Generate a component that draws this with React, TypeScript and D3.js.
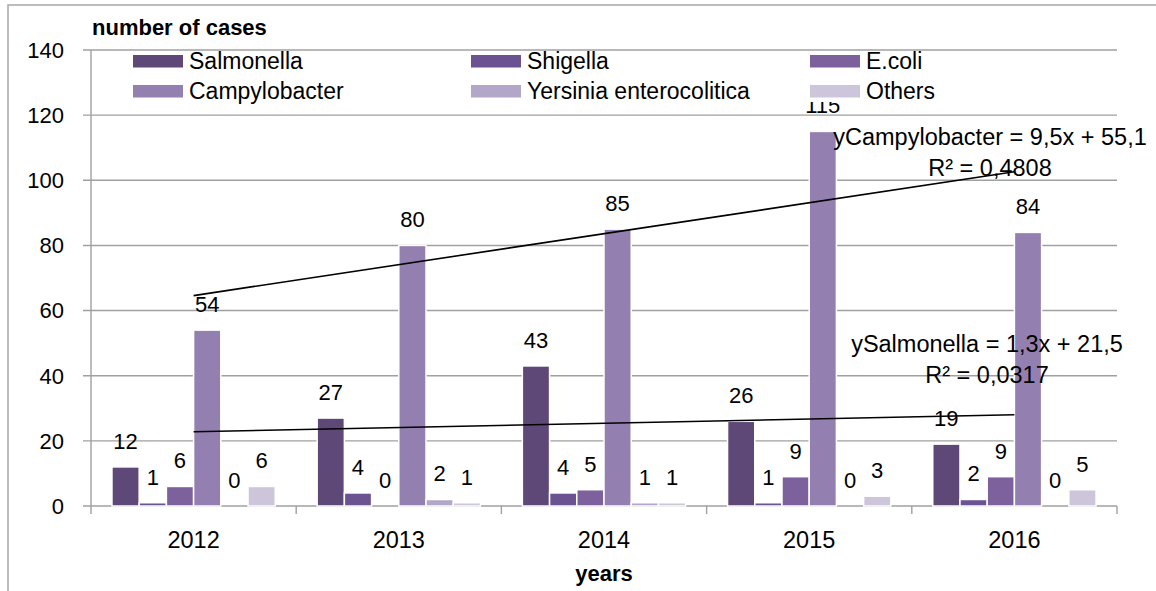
import React, { useEffect, useRef } from 'react';
import * as d3 from 'd3';

const years = ['2012', '2013', '2014', '2015', '2016'];
const seriesNames = ['Salmonella', 'Shigella', 'E.coli', 'Campylobacter', 'Yersinia enterocolitica', 'Others'];
const salmonella = [12, 27, 43, 26, 19];
const shigella = [1, 4, 4, 1, 2];
const ecoli = [6, 0, 5, 9, 9];
const campylobacter = [54, 80, 85, 115, 84];
const yersinia = [0, 2, 1, 0, 0];
const others = [6, 1, 1, 3, 5];
const yTicks = [0, 20, 40, 60, 80, 100, 120, 140];
const colors = ['#5e4878', '#6b5290', '#7d619c', '#9480b0', '#b3a7c9', '#cdc6db'];

const fontFamily = '"Liberation Sans", Arial, sans-serif';

// least squares on x = 1..n, like Excel's linear trendline
const linearFit = (values: number[]) => {
  const xs = values.map((_, i) => i + 1);
  const mx = d3.mean(xs) as number;
  const my = d3.mean(values) as number;
  const sxy = d3.sum(xs, (x, i) => (x - mx) * (values[i] - my));
  const sxx = d3.sum(xs, (x) => (x - mx) ** 2);
  const slope = sxy / sxx;
  const intercept = my - slope * mx;
  const ssTot = d3.sum(values, (v) => (v - my) ** 2);
  const ssRes = d3.sum(values, (v, i) => (v - (slope * xs[i] + intercept)) ** 2);
  return { slope, intercept, r2: 1 - ssRes / ssTot };
};

const comma = (v: number, digits: number) => v.toFixed(digits).replace('.', ',');

const App = () => {
  const ref = useRef<SVGSVGElement>(null);

  useEffect(() => {
    const data = [salmonella, shigella, ecoli, campylobacter, yersinia, others];
    const width = 1156;
    const height = 591;
    const left = 91;
    const right = 1117;
    const top = 50;
    const bottom = 506;

    const svg = d3.select(ref.current);
    svg.selectAll('*').remove();
    svg.attr('width', width).attr('height', height).style('font-family', fontFamily);

    // outer chart border
    svg
      .append('rect')
      .attr('x', 8)
      .attr('y', 5)
      .attr('width', width + 10)
      .attr('height', height + 10)
      .attr('fill', 'white')
      .attr('stroke', '#a6a6a6')
      .attr('stroke-width', 1.5);

    const y = d3.scaleLinear().domain([0, 140]).range([bottom, top]);
    const x0 = d3.scaleBand().domain(years).range([left, right]);
    const x1 = d3
      .scaleBand()
      .domain(seriesNames)
      .range([0, x0.bandwidth()])
      .paddingOuter(0.77);

    // gridlines
    svg
      .append('g')
      .selectAll('line')
      .data(yTicks)
      .enter()
      .append('line')
      .attr('x1', left - 8)
      .attr('x2', right)
      .attr('y1', (d) => y(d))
      .attr('y2', (d) => y(d))
      .attr('stroke', '#a0a0a0')
      .attr('stroke-width', 1.4);

    svg
      .append('line')
      .attr('x1', left)
      .attr('x2', left)
      .attr('y1', top)
      .attr('y2', bottom)
      .attr('stroke', '#a0a0a0')
      .attr('stroke-width', 1.4);

    // category tick marks
    const bounds = years.map((yr) => x0(yr) as number).concat([right]);
    svg
      .append('g')
      .selectAll('line')
      .data(bounds)
      .enter()
      .append('line')
      .attr('x1', (d) => d)
      .attr('x2', (d) => d)
      .attr('y1', bottom)
      .attr('y2', bottom + 8)
      .attr('stroke', '#a0a0a0')
      .attr('stroke-width', 1.4);

    svg
      .append('g')
      .attr('font-size', 22)
      .attr('text-anchor', 'end')
      .selectAll('text')
      .data(yTicks)
      .enter()
      .append('text')
      .attr('x', 64)
      .attr('y', (d) => y(d))
      .attr('dy', '0.36em')
      .text((d) => d);

    svg
      .append('g')
      .attr('font-size', 23.5)
      .attr('text-anchor', 'middle')
      .selectAll('text')
      .data(years)
      .enter()
      .append('text')
      .attr('x', (d) => (x0(d) as number) + x0.bandwidth() / 2)
      .attr('y', 548)
      .text((d) => d);

    // bars
    const groups = svg
      .append('g')
      .selectAll('g')
      .data(data)
      .enter()
      .append('g')
      .attr('fill', (_, i) => colors[i]);

    groups
      .selectAll('rect')
      .data((d, i) => d.map((v, j) => ({ v, year: years[j], s: seriesNames[i] })))
      .enter()
      .append('rect')
      .attr('x', (d) => (x0(d.year) as number) + (x1(d.s) as number))
      .attr('y', (d) => y(d.v))
      .attr('width', x1.bandwidth())
      .attr('height', (d) => bottom - y(d.v))
      .attr('stroke', 'white')
      .attr('stroke-width', 1.5);

    // value labels
    groups
      .selectAll('text')
      .data((d, i) => d.map((v, j) => ({ v, year: years[j], s: seriesNames[i] })))
      .enter()
      .append('text')
      .attr('fill', 'black')
      .attr('font-size', 22)
      .attr('text-anchor', 'middle')
      .attr('x', (d) => (x0(d.year) as number) + (x1(d.s) as number) + x1.bandwidth() / 2)
      .attr('y', (d) => y(d.v) - 18)
      .text((d) => d.v);

    // trendlines
    const centre = (i: number) => (x0(years[i]) as number) + x0.bandwidth() / 2;
    const trends = [
      { name: 'Campylobacter', fit: linearFit(campylobacter), lx: 990, ly: 145 },
      { name: 'Salmonella', fit: linearFit(salmonella), lx: 987, ly: 352 },
    ];
    trends.forEach((t) => {
      const last = years.length - 1;
      svg
        .append('line')
        .attr('x1', centre(0))
        .attr('x2', centre(last))
        .attr('y1', y(t.fit.slope * 1 + t.fit.intercept))
        .attr('y2', y(t.fit.slope * (last + 1) + t.fit.intercept))
        .attr('stroke', 'black')
        .attr('stroke-width', 1.6);
      const lbl = svg.append('text').attr('font-size', 23.5).attr('text-anchor', 'middle');
      lbl
        .append('tspan')
        .attr('x', t.lx)
        .attr('y', t.ly)
        .text(`y${t.name} = ${comma(t.fit.slope, 1)}x + ${comma(t.fit.intercept, 1)}`);
      lbl
        .append('tspan')
        .attr('x', t.lx)
        .attr('y', t.ly + 31)
        .text(`R² = ${comma(t.fit.r2, 4)}`);
    });

    // legend
    const legend = svg.append('g');
    legend
      .append('rect')
      .attr('x', left + 2)
      .attr('y', top + 2)
      .attr('width', right - left - 4)
      .attr('height', 50)
      .attr('fill', 'white');
    const colX = [133, 471, 810];
    const rowY = [55, 85];
    seriesNames.forEach((s, i) => {
      const cx = colX[i % 3];
      const ry = rowY[Math.floor(i / 3)];
      legend
        .append('rect')
        .attr('x', cx)
        .attr('y', ry)
        .attr('width', 50)
        .attr('height', 12.5)
        .attr('fill', colors[i]);
      legend
        .append('text')
        .attr('x', cx + 56)
        .attr('y', ry + 14)
        .attr('font-size', 23)
        .text(s);
    });

    svg
      .append('text')
      .attr('x', 92)
      .attr('y', 35)
      .attr('font-size', 22)
      .attr('font-weight', 'bold')
      .text('number of cases');

    svg
      .append('text')
      .attr('x', (left + right) / 2)
      .attr('y', 581)
      .attr('font-size', 22)
      .attr('font-weight', 'bold')
      .attr('text-anchor', 'middle')
      .text('years');
  }, []);

  return <svg ref={ref} style={{ position: 'absolute', left: 0, top: 0 }} />;
};

export default App;
